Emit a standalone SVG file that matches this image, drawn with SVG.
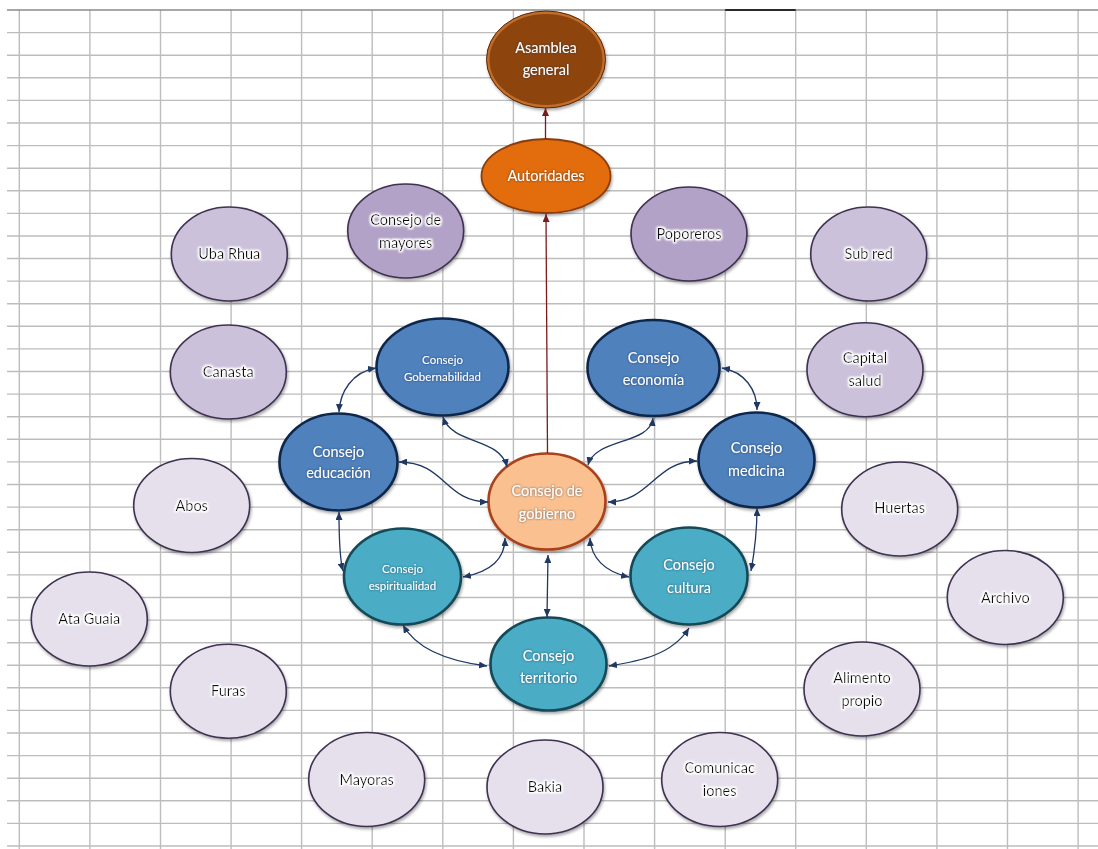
<svg xmlns="http://www.w3.org/2000/svg" width="1098" height="849" viewBox="0 0 1098 849">
<style>
.grid{stroke:#bdbdbd;stroke-width:1.4;fill:none}
.n{stroke-width:1.6}
.t{font-family:Lato,"Liberation Sans",sans-serif;font-size:14.5px;text-anchor:middle}
.s{font-size:11.5px}
.w{fill:#ffffff;filter:url(#haloD)}
.d{fill:#111111;filter:url(#haloW)}
.lav1{fill:#B3A2C7;stroke:#3F3151}
.lav2{fill:#CCC1DA;stroke:#3F3151}
.lav3{fill:#E5E0EC;stroke:#3F3151}
.blue{fill:#4F81BD;stroke:#10284A;stroke-width:2.6}
.teal{fill:#4BACC6;stroke:#174A58;stroke-width:2.6}
.nav{fill:none;stroke:#1F3864;stroke-width:1.3;marker-start:url(#an);marker-end:url(#an)}
.red{fill:none;stroke:#7A1C1C;stroke-width:1.3;marker-end:url(#ar)}
</style>
<defs>
<marker id="an" viewBox="0 0 8 7" refX="8" refY="3.5" markerWidth="8" markerHeight="7" markerUnits="userSpaceOnUse" orient="auto-start-reverse"><path d="M0,0 L8,3.5 L0,7 z" fill="#1F3864"/></marker>
<marker id="ar" viewBox="0 0 8 7" refX="8" refY="3.5" markerWidth="8" markerHeight="7" markerUnits="userSpaceOnUse" orient="auto"><path d="M0,0 L8,3.5 L0,7 z" fill="#7A1C1C"/></marker>
<filter id="sh" x="-20%" y="-20%" width="140%" height="150%"><feDropShadow dx="1" dy="2" stdDeviation="1.5" flood-color="#000" flood-opacity="0.35"/></filter>
<filter id="haloW" x="-20%" y="-50%" width="140%" height="200%"><feMorphology in="SourceAlpha" operator="dilate" radius="1" result="d"/><feGaussianBlur in="d" stdDeviation="1.3" result="b"/><feFlood flood-color="#ffffff"/><feComposite in2="b" operator="in" result="h"/><feMerge><feMergeNode in="h"/><feMergeNode in="h"/><feMergeNode in="SourceGraphic"/></feMerge></filter>
<filter id="haloD" x="-20%" y="-50%" width="140%" height="200%"><feGaussianBlur in="SourceAlpha" stdDeviation="1.3" result="b"/><feFlood flood-color="#1a2a40" flood-opacity="0.7"/><feComposite in2="b" operator="in" result="h"/><feMerge><feMergeNode in="h"/><feMergeNode in="SourceGraphic"/></feMerge></filter>
</defs>
<rect width="1098" height="849" fill="#ffffff"/>
<g id="grid">
<path class="grid" d="M7,32.6H1098M7,55.2H1098M7,77.8H1098M7,100.4H1098M7,123H1098M7,145.6H1098M7,168.2H1098M7,190.8H1098M7,213.4H1098M7,236H1098M7,258.5H1098M7,281.1H1098M7,303.7H1098M7,326.3H1098M7,348.9H1098M7,371.5H1098M7,394.1H1098M7,416.7H1098M7,439.3H1098M7,461.9H1098M7,484.5H1098M7,507.1H1098M7,529.7H1098M7,552.3H1098M7,574.9H1098M7,597.5H1098M7,620.1H1098M7,642.7H1098M7,665.3H1098M7,687.8H1098M7,710.4H1098M7,733H1098M7,755.6H1098M7,778.2H1098M7,800.8H1098M7,823.4H1098M7,846H1098"/>
<path class="grid" d="M19.3,10V849M89.9,10V849M160.5,10V849M231.1,10V849M301.6,10V849M372.2,10V849M442.8,10V849M513.4,10V849M584,10V849M654.6,10V849M725.2,10V849M795.7,10V849M866.3,10V849M936.9,10V849M1007.5,10V849M1078.1,10V849"/>
<path d="M7,10H1098" stroke="#8a8a8a" stroke-width="1.5"/>
<path d="M725.2,10H795.7" stroke="#000" stroke-width="1.5"/>
</g>
<g id="n-asamblea" filter="url(#sh)"><ellipse cx="546" cy="59.5" rx="58" ry="47" fill="#8E4511" stroke="#C06E2C" stroke-width="3"/><ellipse cx="546" cy="59.5" rx="59.5" ry="48.5" fill="none" stroke="#5A2806" stroke-width="1"/><text class="t w" x="546" y="53">Asamblea</text><text class="t w" x="546" y="75">general</text></g>
<g id="n-autoridades" filter="url(#sh)"><ellipse cx="546" cy="176" rx="64.5" ry="37" fill="#E36C09" stroke="#8A3D08" stroke-width="1.8"/><text class="t w" x="546" y="181">Autoridades</text></g>
<g id="n-mayores" filter="url(#sh)"><ellipse class="n lav1" cx="405.7" cy="231" rx="58" ry="47"/><text class="t d" x="405.7" y="225">Consejo de</text><text class="t d" x="405.7" y="247.5">mayores</text></g>
<g id="n-poporeros" filter="url(#sh)"><ellipse class="n lav1" cx="689" cy="234" rx="58" ry="47"/><text class="t d" x="689" y="239">Poporeros</text></g>
<g id="n-ubarhua" filter="url(#sh)"><ellipse class="n lav2" cx="229.3" cy="254" rx="58" ry="47"/><text class="t d" x="229.3" y="259">Uba Rhua</text></g>
<g id="n-subred" filter="url(#sh)"><ellipse class="n lav2" cx="868.7" cy="254" rx="58" ry="47"/><text class="t d" x="868.7" y="259">Sub red</text></g>
<g id="n-canasta" filter="url(#sh)"><ellipse class="n lav2" cx="228.3" cy="372" rx="58" ry="47"/><text class="t d" x="228.3" y="376.5">Canasta</text></g>
<g id="n-capital" filter="url(#sh)"><ellipse class="n lav2" cx="865" cy="369.7" rx="58" ry="47"/><text class="t d" x="865" y="363">Capital</text><text class="t d" x="865" y="386">salud</text></g>
<g id="n-abos" filter="url(#sh)"><ellipse class="n lav3" cx="191.7" cy="505.5" rx="58" ry="47"/><text class="t d" x="191.7" y="511">Abos</text></g>
<g id="n-huertas" filter="url(#sh)"><ellipse class="n lav3" cx="899.7" cy="509" rx="58" ry="47"/><text class="t d" x="899.7" y="513">Huertas</text></g>
<g id="n-ataguaia" filter="url(#sh)"><ellipse class="n lav3" cx="89.3" cy="619" rx="58" ry="47"/><text class="t d" x="89.3" y="624">Ata Guaia</text></g>
<g id="n-archivo" filter="url(#sh)"><ellipse class="n lav3" cx="1005.3" cy="597.5" rx="58" ry="47"/><text class="t d" x="1005.3" y="602.5">Archivo</text></g>
<g id="n-furas" filter="url(#sh)"><ellipse class="n lav3" cx="228.3" cy="691.2" rx="58" ry="47"/><text class="t d" x="228.3" y="696">Furas</text></g>
<g id="n-alimento" filter="url(#sh)"><ellipse class="n lav3" cx="862" cy="689" rx="58" ry="47"/><text class="t d" x="862" y="683">Alimento</text><text class="t d" x="862" y="705.5">propio</text></g>
<g id="n-mayoras" filter="url(#sh)"><ellipse class="n lav3" cx="366.7" cy="779.5" rx="58" ry="47"/><text class="t d" x="366.7" y="785">Mayoras</text></g>
<g id="n-bakia" filter="url(#sh)"><ellipse class="n lav3" cx="545" cy="787" rx="58" ry="47"/><text class="t d" x="545" y="792">Bakia</text></g>
<g id="n-comunicaciones" filter="url(#sh)"><ellipse class="n lav3" cx="719.7" cy="779.5" rx="58" ry="47"/><text class="t d" x="719.7" y="773">Comunicac</text><text class="t d" x="719.7" y="796">iones</text></g>
<g id="n-gobernabilidad" filter="url(#sh)"><ellipse class="blue" cx="442.5" cy="367" rx="66" ry="48.5"/><text class="t s w" x="442.5" y="363.5">Consejo</text><text class="t s w" x="442.5" y="381">Gobernabilidad</text></g>
<g id="n-educacion" filter="url(#sh)"><ellipse class="blue" cx="338.5" cy="462" rx="59" ry="48.5"/><text class="t w" x="338.5" y="456.5">Consejo</text><text class="t w" x="338.5" y="478">educación</text></g>
<g id="n-economia" filter="url(#sh)"><ellipse class="blue" cx="653.5" cy="368" rx="66" ry="48"/><text class="t w" x="653.5" y="362.5">Consejo</text><text class="t w" x="653.5" y="385">economía</text></g>
<g id="n-medicina" filter="url(#sh)"><ellipse class="blue" cx="756.5" cy="460" rx="58" ry="47.5"/><text class="t w" x="756.5" y="453">Consejo</text><text class="t w" x="756.5" y="476">medicina</text></g>
<g id="n-gobierno" filter="url(#sh)"><ellipse cx="547" cy="501.5" rx="58.5" ry="48" fill="#FAC090" stroke="#A8421A" stroke-width="2.6"/><text class="t w" x="547" y="496">Consejo de</text><text class="t w" x="547" y="519">gobierno</text></g>
<g id="n-espiritualidad" filter="url(#sh)"><ellipse class="teal" cx="402.5" cy="576.5" rx="58.5" ry="48"/><text class="t s w" x="402.5" y="572.5">Consejo</text><text class="t s w" x="402.5" y="590">espiritualidad</text></g>
<g id="n-cultura" filter="url(#sh)"><ellipse class="teal" cx="689" cy="576" rx="58.5" ry="48.5"/><text class="t w" x="689" y="570">Consejo</text><text class="t w" x="689" y="592.5">cultura</text></g>
<g id="n-territorio" filter="url(#sh)"><ellipse class="teal" cx="548.5" cy="664" rx="58" ry="46.5"/><text class="t w" x="548.5" y="660.5">Consejo</text><text class="t w" x="548.5" y="682.5">territorio</text></g>
<g id="connectors">
<path class="red" d="M545.5,139 L545.5,108"/>
<path class="red" d="M547.5,453 L546,214"/>
<path class="nav" d="M376,368 C352,372 340,392 339,412"/>
<path class="nav" d="M443,417 C452,445 500,437 507,467"/>
<path class="nav" d="M399,462 C445,462 445,502 488,502"/>
<path class="nav" d="M653,418 C650,445 595,438 588,465"/>
<path class="nav" d="M722,368 C745,372 757,390 757,410"/>
<path class="nav" d="M697,461 C655,461 650,502 608,502"/>
<path class="nav" d="M339,512 C339,540 340,560 343,571"/>
<path class="nav" d="M757,508 C757,535 753,560 751,571"/>
<path class="nav" d="M463,577 C490,572 505,560 505,538"/>
<path class="nav" d="M629,577 C605,572 591,558 590,538"/>
<path class="nav" d="M548,555 L547,617"/>
<path class="nav" d="M403,625 C418,652 455,662 487,666"/>
<path class="nav" d="M689,628 C672,655 640,661 609,666"/>
</g>
</svg>
